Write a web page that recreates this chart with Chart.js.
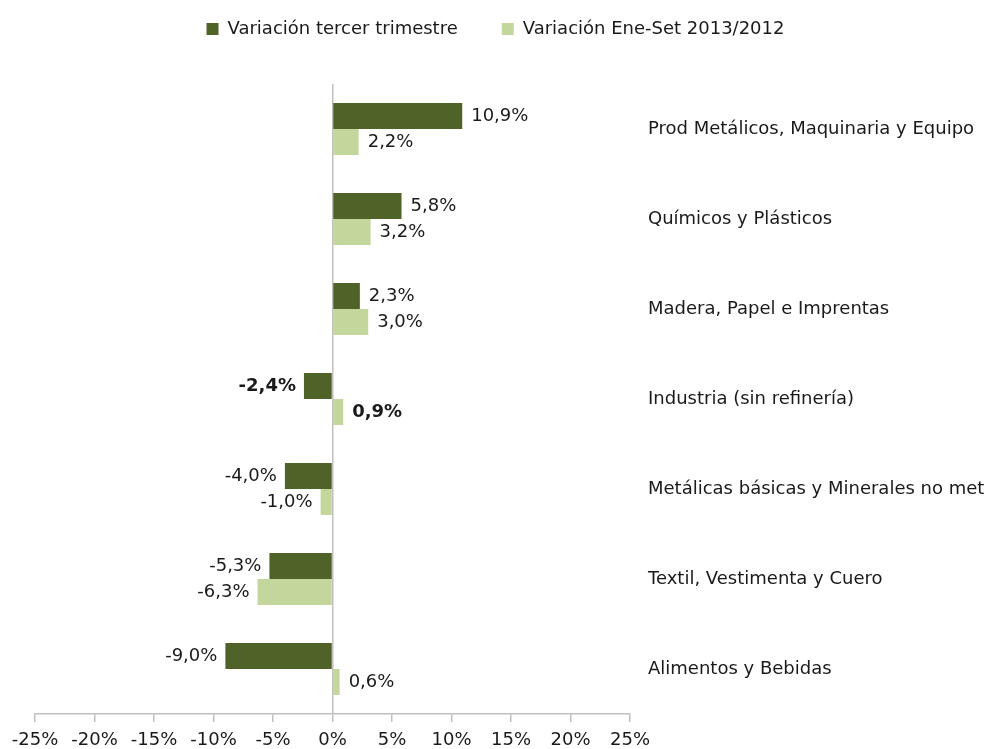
<!DOCTYPE html>
<html>
<head>
<meta charset="utf-8">
<script src="https://cdn.jsdelivr.net/npm/chart.js@4/dist/chart.umd.min.js"></script>
<style>
  body { margin: 0; background: #fff; }
  #wrap { width: 990px; height: 749px; position: relative; }
</style>
</head>
<body>
<div id="wrap"><canvas id="chart"></canvas></div>
<script>
const categories = [
  "Prod Metálicos, Maquinaria y Equipo",
  "Químicos y Plásticos",
  "Madera, Papel e Imprentas",
  "Industria (sin refinería)",
  "Metálicas básicas y Minerales no met",
  "Textil, Vestimenta y Cuero",
  "Alimentos y Bebidas"
];
const thirdQuarter = [10.9, 5.8, 2.3, -2.4, -4.0, -5.3, -9.0];
const janSep = [2.2, 3.2, 3.0, 0.9, -1.0, -6.3, 0.6];
const seriesNames = ["Variación tercer trimestre", "Variación Ene-Set 2013/2012"];
const boldRow = 3; // Industria (sin refinería)

const FONT = "'DejaVu Sans', sans-serif";
const TEXT = "#1a1a1a";
const AXIS = "#bfbfbf";
const TOP_PAD = -24;

// legend keeps wide item spacing but ends where the plot starts
const legendSpacer = {
  id: "legendSpacer",
  beforeInit(chart) {
    const fit = chart.legend.fit;
    chart.legend.fit = function () {
      fit.bind(chart.legend)();
      this.height = 84 - TOP_PAD;
    };
  },
  afterUpdate(chart) {
    // centre legend on the whole canvas, not on the padded width
    chart.legend.left -= 17;
    chart.legend.right -= 17;
  }
};

// value labels next to the bar ends
const valueLabels = {
  id: "valueLabels",
  afterDatasetsDraw(chart) {
    const ctx = chart.ctx;
    ctx.save();
    ctx.fillStyle = TEXT;
    ctx.textBaseline = "middle";
    chart.data.datasets.forEach((ds, di) => {
      const meta = chart.getDatasetMeta(di);
      meta.data.forEach((bar, i) => {
        const v = ds.data[i];
        const txt = v.toFixed(1).replace(".", ",") + "%";
        ctx.font = (i === boldRow ? "bold " : "") + "18px " + FONT;
        if (v >= 0) {
          ctx.textAlign = "left";
          ctx.fillText(txt, bar.x + 9, bar.y);
        } else {
          ctx.textAlign = "right";
          ctx.fillText(txt, bar.x - 8, bar.y);
        }
      });
    });
    ctx.restore();
  }
};

new Chart(document.getElementById("chart"), {
  type: "bar",
  data: {
    labels: categories,
    datasets: [
      {
        label: seriesNames[0],
        data: thirdQuarter,
        backgroundColor: "#4f6228",
        borderWidth: 0
      },
      {
        label: seriesNames[1],
        data: janSep,
        backgroundColor: "#c3d69b",
        borderWidth: 0
      }
    ]
  },
  options: {
    indexAxis: "y",
    responsive: true,
    maintainAspectRatio: false,
    animation: false,
    categoryPercentage: 0.578,
    barPercentage: 1,
    layout: { padding: { top: TOP_PAD, left: 35, right: 0, bottom: 0 } },
    plugins: {
      legend: {
        position: "top",
        labels: {
          font: { family: FONT, size: 18 },
          color: TEXT,
          boxWidth: 12,
          boxHeight: 12,
          padding: 44
        }
      },
      tooltip: { enabled: false }
    },
    scales: {
      x: {
        min: -25,
        max: 25,
        ticks: {
          stepSize: 5,
          color: TEXT,
          font: { family: FONT, size: 18 },
          padding: 8,
          callback: (v) => v + "%"
        },
        grid: {
          color: (c) => (c.tick && c.tick.value === 0 ? AXIS : "rgba(0,0,0,0)"),
          tickColor: AXIS,
          tickLength: 8,
          lineWidth: 1.5
        },
        border: { color: AXIS, width: 1.5 },
        afterFit(scale) {
          scale.height = 35;
        }
      },
      y: {
        position: "right",
        ticks: {
          color: TEXT,
          font: { family: FONT, size: 18 },
          padding: 18
        },
        grid: { display: false, drawTicks: false },
        border: { display: false },
        afterFit(scale) {
          scale.width = 360;
        }
      }
    }
  },
  plugins: [legendSpacer, valueLabels]
});
</script>
</body>
</html>
